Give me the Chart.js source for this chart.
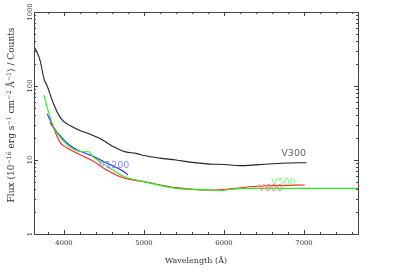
<!DOCTYPE html>
<html>
<head>
<meta charset="utf-8">
<script src="https://cdn.jsdelivr.net/npm/chart.js@4.4.0/dist/chart.umd.min.js"></script>
<style>
  body { margin: 0; background: #fff; }
  canvas { display: block; }
</style>
</head>
<body>
<canvas id="chart" width="393" height="274"></canvas>
<script>
// spectra (wavelength in A, flux)
var v300Wave = [3625, 3660, 3700, 3750, 3790, 3870, 3950, 4000, 4080, 4200, 4340, 4450, 4600, 4750, 4900, 5000, 5200, 5400, 5600, 5825, 6000, 6200, 6400, 6615, 6800, 7030];
var v300Flux = [340, 290, 224, 125, 100, 57, 38, 33, 29, 25, 22, 19.5, 15.5, 13, 12.3, 11.5, 10.6, 10, 9.3, 8.8, 8.7, 8.4, 8.6, 8.9, 9.1, 9.2];

var v600Wave = [3825, 3870, 3920, 3960, 4000, 4125, 4250, 4375, 4500, 4750, 5000, 5400, 5825, 6000, 6160, 6325, 6615, 7010];
var v600Flux = [32, 27, 20, 16.8, 15.5, 12.9, 11.1, 9.5, 7.7, 5.7, 5.1, 4.23, 3.93, 4.0, 4.13, 4.36, 4.5, 4.6];

var v500Wave = [3750, 3810, 3875, 4000, 4125, 4250, 4300, 4375, 4500, 4750, 5000, 5400, 5825, 5950, 6075, 6280, 7675];
var v500Flux = [75, 43, 27, 17.7, 13.9, 12.9, 13.0, 10.8, 8.8, 6.0, 5.1, 4.13, 3.93, 3.85, 4.0, 4.13, 4.13];

var v1200Wave = [3790, 3875, 4000, 4125, 4250, 4375, 4500, 4750, 4800];
var v1200Flux = [42, 27, 18.6, 14.4, 12.5, 11.1, 9.5, 6.95, 6.27];

var xTicks = [4000, 5000, 6000, 7000];
var yTicks = [1, 10, 100, 1000];

function pts(w, f) {
  return w.map(function (x, i) { return { x: x, y: f[i] }; });
}

// frame with inward ticks on all four sides, tick labels, titles, curve labels
var framePlugin = {
  id: 'frame',
  afterDraw: function (chart) {
    var ctx = chart.ctx;
    var a = chart.chartArea;
    var xs = chart.scales.x;
    var ys = chart.scales.y;
    ctx.save();
    ctx.strokeStyle = '#444';
    ctx.lineWidth = 1;
    ctx.strokeRect(a.left + 0.5, a.top + 0.5, a.right - a.left, a.bottom - a.top);

    ctx.beginPath();
    for (var w = 3600; w <= 7700; w += 200) {
      if (w < xs.min || w > xs.max) continue;
      var px = Math.round(xs.getPixelForValue(w)) + 0.5;
      var len = (w % 1000 === 0) ? 4 : 2;
      ctx.moveTo(px, a.bottom); ctx.lineTo(px, a.bottom - len);
      ctx.moveTo(px, a.top); ctx.lineTo(px, a.top + len);
    }
    for (var d = 1; d < 1000; d *= 10) {
      for (var m = 1; m <= 10; m++) {
        var v = d * m;
        var py = Math.round(ys.getPixelForValue(v)) + 0.5;
        var l = (m === 1 || m === 10) ? 4 : 2;
        ctx.moveTo(a.left, py); ctx.lineTo(a.left + l, py);
        ctx.moveTo(a.right, py); ctx.lineTo(a.right - l, py);
      }
    }
    ctx.stroke();

    ctx.fillStyle = '#333';
    ctx.font = '6.8px "DejaVu Serif"';
    ctx.textAlign = 'center';
    ctx.textBaseline = 'middle';
    xTicks.forEach(function (t) {
      ctx.fillText(String(t), xs.getPixelForValue(t), a.bottom + 9);
    });
    yTicks.forEach(function (t) {
      ctx.save();
      ctx.translate(a.left - 4, ys.getPixelForValue(t));
      ctx.rotate(-Math.PI / 2);
      ctx.fillText(String(t), 0, 0);
      ctx.restore();
    });

    ctx.font = '8px "DejaVu Serif"';
    ctx.fillText('Wavelength (\u00c5)', (a.left + a.right) / 2, a.bottom + 27);

    // y title with superscripts
    var parts = [
      ['Flux (10', 0], ['\u221216', 1], [' erg s', 0], ['\u22121', 1], [' cm', 0], ['\u22122', 1],
      [' \u00c5', 0], ['\u22121', 1], [') / Counts', 0]
    ];
    var big = '9px "DejaVu Serif"', small = '6.3px "DejaVu Serif"';
    var total = 0;
    parts.forEach(function (p) { ctx.font = p[1] ? small : big; total += ctx.measureText(p[0]).width; });
    ctx.save();
    ctx.translate(12, 115);
    ctx.rotate(-Math.PI / 2);
    ctx.textAlign = 'left';
    var cx = -total / 2;
    parts.forEach(function (p) {
      ctx.font = p[1] ? small : big;
      ctx.fillText(p[0], cx, p[1] ? -3 : 0);
      cx += ctx.measureText(p[0]).width;
    });
    ctx.restore();

    // curve labels
    ctx.font = '9.5px "DejaVu Sans"';
    ctx.textAlign = 'center';
    var labels = [
      ['V300', 6871, 12.3, '#666'],
      ['V500', 6740, 5.0, '#80ff80'],
      ['V600', 6581, 4.06, '#ff8080'],
      ['V1200', 4625, 8.3, '#8888ff']
    ];
    labels.forEach(function (l) {
      ctx.fillStyle = l[3];
      ctx.fillText(l[0], xs.getPixelForValue(l[1]), ys.getPixelForValue(l[2]));
    });
    ctx.restore();
  }
};

var ctx = document.getElementById('chart').getContext('2d');
var chart = new Chart(ctx, {
  type: 'scatter',
  data: {
    datasets: [
      { label: 'V300', data: pts(v300Wave, v300Flux), borderColor: '#222', showLine: true },
      { label: 'V500', data: pts(v500Wave, v500Flux), borderColor: '#22ee22', showLine: true },
      { label: 'V1200', data: pts(v1200Wave, v1200Flux), borderColor: '#2222ff', showLine: true },
      { label: 'V600', data: pts(v600Wave, v600Flux), borderColor: '#ff2222', showLine: true }
    ]
  },
  options: {
    responsive: false,
    devicePixelRatio: 1,
    animation: false,
    layout: { padding: { left: 34, right: 35, top: 12, bottom: 40 } },
    elements: {
      point: { radius: 0 },
      line: { borderWidth: 1.1, cubicInterpolationMode: 'monotone' }
    },
    plugins: { legend: { display: false }, tooltip: { enabled: false } },
    scales: {
      x: { type: 'linear', min: 3625, max: 7675, display: false },
      y: { type: 'logarithmic', min: 1, max: 1000, display: false }
    }
  },
  plugins: [framePlugin]
});
</script>
</body>
</html>
